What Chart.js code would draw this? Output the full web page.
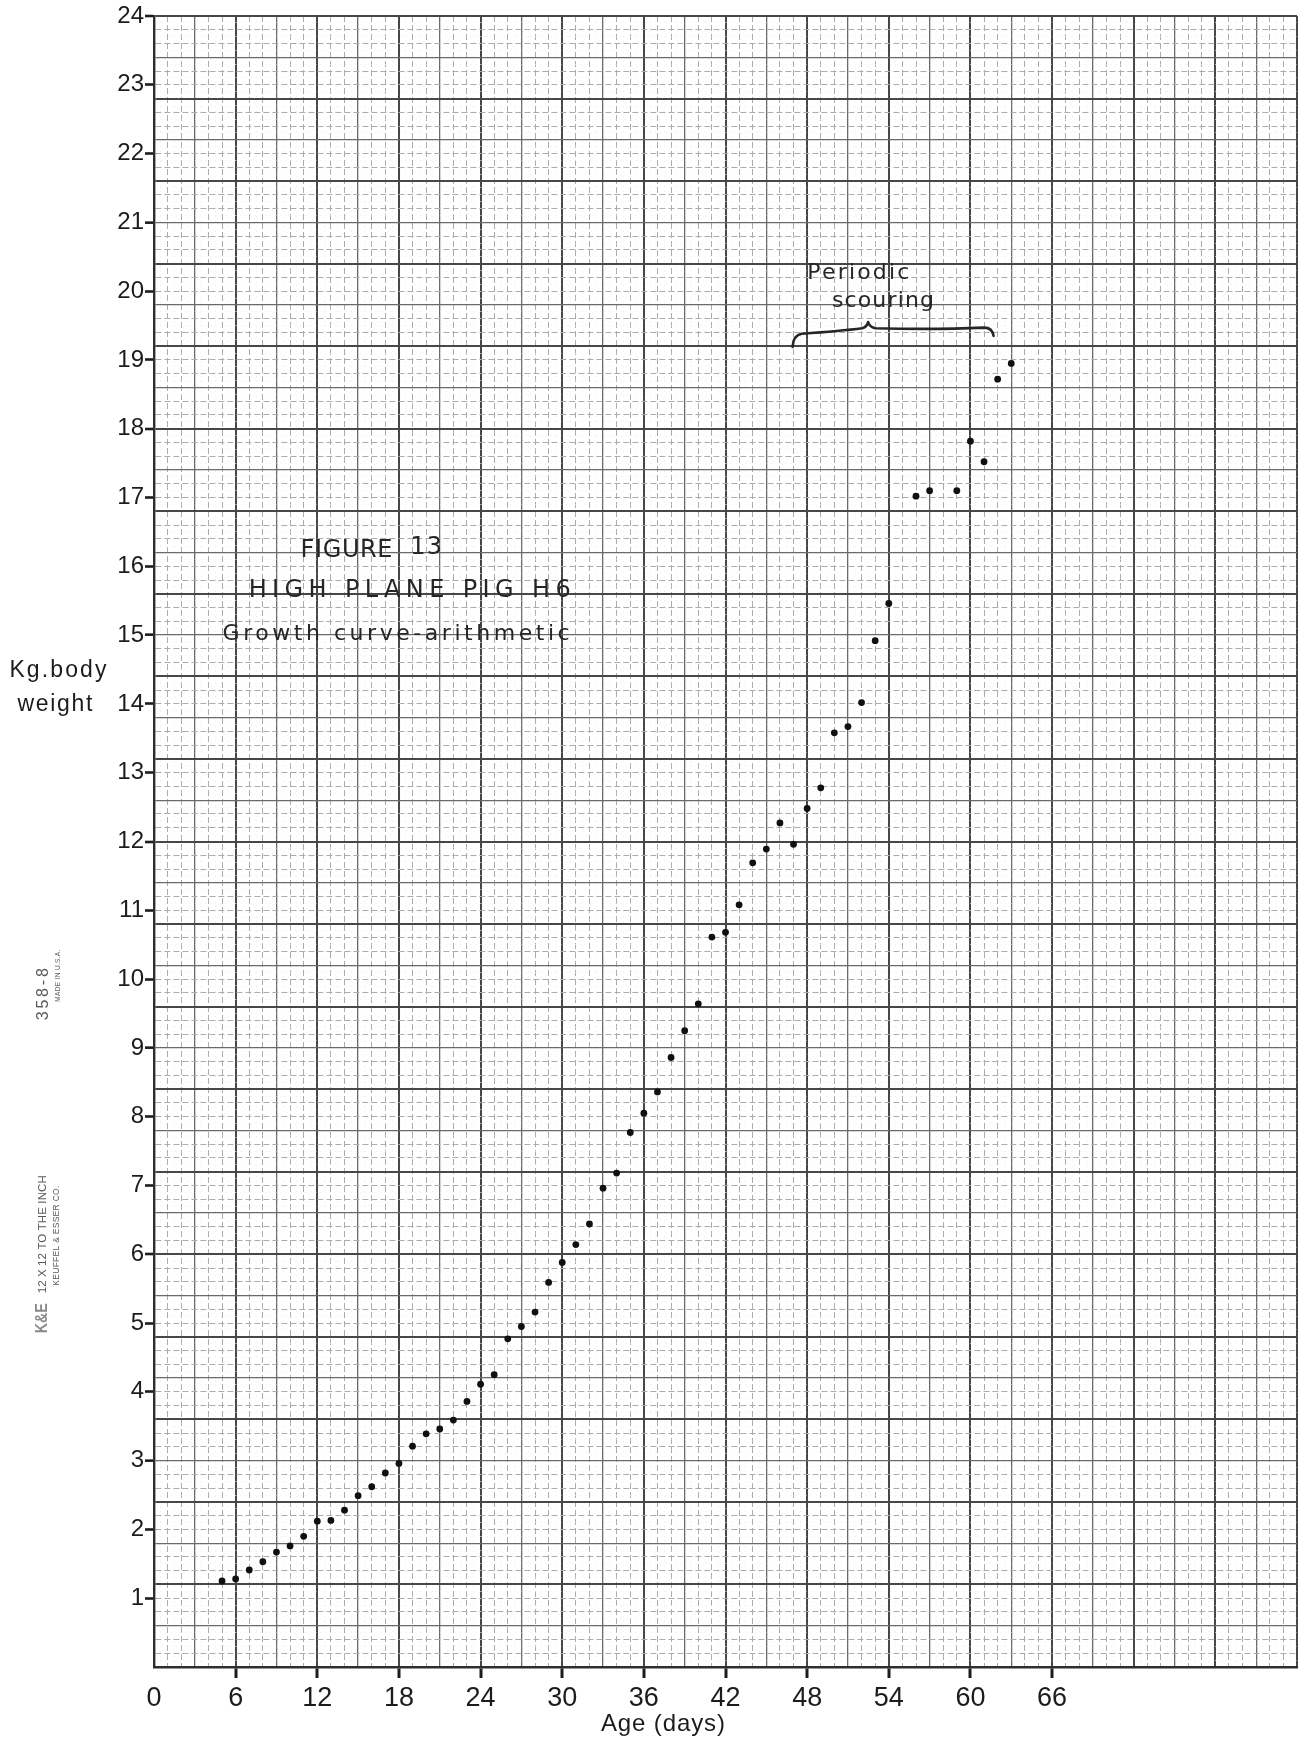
<!DOCTYPE html>
<html>
<head>
<meta charset="utf-8">
<title>High plane pig H6 – growth curve</title>
<script src="https://cdn.jsdelivr.net/npm/chart.js@4/dist/chart.umd.min.js"></script>
<style>
  html, body { margin: 0; padding: 0; background: #ffffff; }
  canvas { display: block; }
</style>
</head>
<body>
<canvas id="growth" width="1305" height="1740"></canvas>
<script>
// Age (days) at each weighing; no weights were recorded on days 55 and 58
const ageDays = [5, 6, 7, 8, 9, 10, 11, 12, 13, 14, 15, 16, 17, 18, 19, 20, 21, 22, 23, 24,
  25, 26, 27, 28, 29, 30, 31, 32, 33, 34, 35, 36, 37, 38, 39, 40, 41, 42, 43, 44,
  45, 46, 47, 48, 49, 50, 51, 52, 53, 54, 56, 57, 59, 60, 61, 62, 63];

// Body weight (kg) on those days
const bodyWeightKg = [1.25, 1.28, 1.41, 1.53, 1.67, 1.76, 1.90, 2.12, 2.13, 2.28, 2.49, 2.62, 2.82, 2.96, 3.21, 3.39, 3.46, 3.59, 3.86, 4.11,
  4.25, 4.77, 4.95, 5.16, 5.59, 5.88, 6.14, 6.44, 6.96, 7.18, 7.77, 8.05, 8.36, 8.86, 9.25, 9.64, 10.61, 10.68, 11.08, 11.69,
  11.89, 12.27, 11.96, 12.48, 12.78, 13.58, 13.67, 14.02, 14.92, 15.46, 17.02, 17.10, 17.10, 17.82, 17.52, 18.72, 18.95];

// Labelled ticks
const xTickDays = [0, 6, 12, 18, 24, 30, 36, 42, 48, 54, 60, 66];
const yTickKg = [1, 2, 3, 4, 5, 6, 7, 8, 9, 10, 11, 12, 13, 14, 15, 16, 17, 18, 19, 20, 21, 22, 23, 24];

// Axis ranges of the sheet
const xRange = [0, 84];
const yRange = [0, 24];

const points = ageDays.map((d, i) => ({ x: d, y: bodyWeightKg[i] }));

const INK = '#1c1c1c';
const LABEL_FONT = '"Liberation Sans", Arial, sans-serif';
const LETTERING = '"DejaVu Sans", "Liberation Sans", sans-serif';

// Graph paper, 12 lines to the inch: n counts 1/12-inch steps.
function paperLine(n) {
  if (n % 12 === 0) return { color: '#474747', width: 2, dash: [] };
  if (n % 6 === 0) return { color: '#6a6a6a', width: 1.3, dash: [] };
  if (n % 2 === 0) return { color: '#acacac', width: 1, dash: [6, 3] };
  return { color: '#efefef', width: 1, dash: [1, 4] };
}
const xStep = n => Math.round(n * 2);    // 0.5 day per 1/12 inch
const yStep = n => Math.round(n * 10);   // 0.1 kg per 1/12 inch
const near = (v, list) => list.some(t => Math.abs(t - v) < 1e-6);

// Text squeezed or spaced to a set width
function fittedText(ctx, txt, cx, by, width, font) {
  ctx.save();
  ctx.font = font;
  ctx.letterSpacing = '0px';
  const w = ctx.measureText(txt).width;
  const n = [...txt].length;
  ctx.textAlign = 'left';
  if (w <= width && n > 1) {
    ctx.letterSpacing = ((width - w) / (n - 1)).toFixed(2) + 'px';
    ctx.fillText(txt, cx - width / 2, by);
  } else {
    ctx.translate(cx - width / 2, by);
    ctx.scale(width / w, 1);
    ctx.fillText(txt, 0, 0);
  }
  ctx.restore();
}

function rotatedText(ctx, txt, cx, cy, length, font, color) {
  ctx.save();
  ctx.translate(cx, cy);
  ctx.rotate(-Math.PI / 2);
  ctx.fillStyle = color;
  ctx.textBaseline = 'middle';
  fittedText(ctx, txt, 0, 0, length, font);
  ctx.restore();
}

const sheetNotes = {
  id: 'sheetNotes',
  afterDraw(chart) {
    const { ctx, scales: { x, y } } = chart;
    const X = d => x.getPixelForValue(d);
    const Y = k => y.getPixelForValue(k);
    ctx.save();
    ctx.fillStyle = '#262626';
    ctx.textBaseline = 'alphabetic';

    // Title block
    fittedText(ctx, 'FIGURE', X(14.15), Y(16.14), 92, '24px ' + LETTERING);
    fittedText(ctx, '13', X(20.0), Y(16.18), 32, '24px ' + LETTERING);
    fittedText(ctx, 'HIGH PLANE PIG H6', X(18.79), Y(15.55), 322, '24px ' + LETTERING);
    fittedText(ctx, 'Growth curve-arithmetic', X(17.79), Y(14.93), 347, '22px ' + LETTERING);

    // Scouring note with brace
    fittedText(ctx, 'Periodic', X(51.76), Y(20.18), 102, '22px ' + LETTERING);
    fittedText(ctx, 'scouring', X(53.57), Y(19.77), 102, '22px ' + LETTERING);

    ctx.strokeStyle = '#262626';
    ctx.lineWidth = 2.6;
    ctx.lineCap = 'round';
    ctx.lineJoin = 'round';
    ctx.beginPath();
    ctx.moveTo(X(46.93), Y(19.19));
    ctx.quadraticCurveTo(X(46.98), Y(19.36), X(47.6), Y(19.38));
    ctx.quadraticCurveTo(X(50.5), Y(19.42), X(52.05), Y(19.46));
    ctx.quadraticCurveTo(X(52.4), Y(19.48), X(52.48), Y(19.55));
    ctx.quadraticCurveTo(X(52.6), Y(19.48), X(53.0), Y(19.46));
    ctx.quadraticCurveTo(X(57.5), Y(19.44), X(61.0), Y(19.47));
    ctx.quadraticCurveTo(X(61.6), Y(19.47), X(61.7), Y(19.35));
    ctx.stroke();

    // Axis titles
    ctx.fillStyle = INK;
    fittedText(ctx, 'Kg.body', X(-7.06), Y(14.39), 97, '23px ' + LABEL_FONT);
    fittedText(ctx, 'weight', X(-7.28), Y(13.90), 75, '23px ' + LABEL_FONT);
    fittedText(ctx, 'Age (days)', X(37.4), Y(-0.93), 124, '24px ' + LABEL_FONT);

    // Paper maker's margin imprint
    const grey = '#5a5a5a';
    rotatedText(ctx, '358-8', X(-8.15), Y(9.78), 52, '16px ' + LABEL_FONT, grey);
    rotatedText(ctx, 'MADE IN U.S.A.', X(-7.07), Y(10.05), 52, '6.5px ' + LABEL_FONT, grey);
    rotatedText(ctx, '12 X 12 TO THE INCH', X(-8.15), Y(6.29), 118, '11.5px ' + LABEL_FONT, grey);
    rotatedText(ctx, 'KEUFFEL & ESSER CO.', X(-7.12), Y(6.27), 100, '8.5px ' + LABEL_FONT, grey);
    rotatedText(ctx, 'K&E', X(-8.2), Y(5.07), 30, 'bold 17px ' + LABEL_FONT, '#8a8a8a');
    ctx.restore();
  }
};

new Chart(document.getElementById('growth'), {
  type: 'scatter',
  data: {
    datasets: [{
      label: 'Body weight',
      data: points,
      pointRadius: 3.4,
      pointHoverRadius: 3.4,
      pointBackgroundColor: '#101010',
      pointBorderWidth: 0,
      showLine: false
    }]
  },
  options: {
    responsive: false,
    animation: false,
    devicePixelRatio: 1,
    layout: { padding: { top: 16, right: 8, left: 0, bottom: 0 } },
    plugins: { legend: { display: false }, tooltip: { enabled: false } },
    scales: {
      x: {
        type: 'linear',
        position: 'bottom',
        min: xRange[0],
        max: xRange[1],
        afterFit: s => { s.height = 73; },
        ticks: {
          stepSize: 0.5,
          autoSkip: false,
          maxRotation: 0,
          minRotation: 0,
          padding: 4,
          color: INK,
          font: { family: LABEL_FONT, size: 27 },
          callback: v => near(v, xTickDays) ? String(v) : ''
        },
        grid: {
          color: c => c.tick ? paperLine(xStep(c.tick.value)).color : '#474747',
          lineWidth: c => c.tick ? paperLine(xStep(c.tick.value)).width : 2,
          tickLength: 11,
          tickWidth: 3,
          tickColor: c => (c.tick && c.tick.value > 0 && near(c.tick.value, xTickDays)) ? INK : 'rgba(0,0,0,0)'
        },
        border: {
          display: true,
          color: '#2e2e2e',
          width: 2.4,
          dash: c => c.tick ? paperLine(xStep(c.tick.value)).dash : []
        }
      },
      y: {
        type: 'linear',
        position: 'left',
        min: yRange[0],
        max: yRange[1],
        afterFit: s => { s.width = 154; },
        ticks: {
          stepSize: 0.1,
          autoSkip: false,
          padding: 1,
          color: INK,
          font: { family: LABEL_FONT, size: 24 },
          callback: v => near(v, yTickKg) ? String(Math.round(v)) : ''
        },
        grid: {
          color: c => c.tick ? paperLine(yStep(c.tick.value)).color : '#474747',
          lineWidth: c => c.tick ? paperLine(yStep(c.tick.value)).width : 2,
          tickLength: 9,
          tickWidth: 2.6,
          tickColor: c => (c.tick && near(c.tick.value, yTickKg)) ? INK : 'rgba(0,0,0,0)'
        },
        border: {
          display: true,
          color: '#2e2e2e',
          width: 2.4,
          dash: c => c.tick ? paperLine(yStep(c.tick.value)).dash : []
        }
      }
    }
  },
  plugins: [sheetNotes]
});
</script>
</body>
</html>
